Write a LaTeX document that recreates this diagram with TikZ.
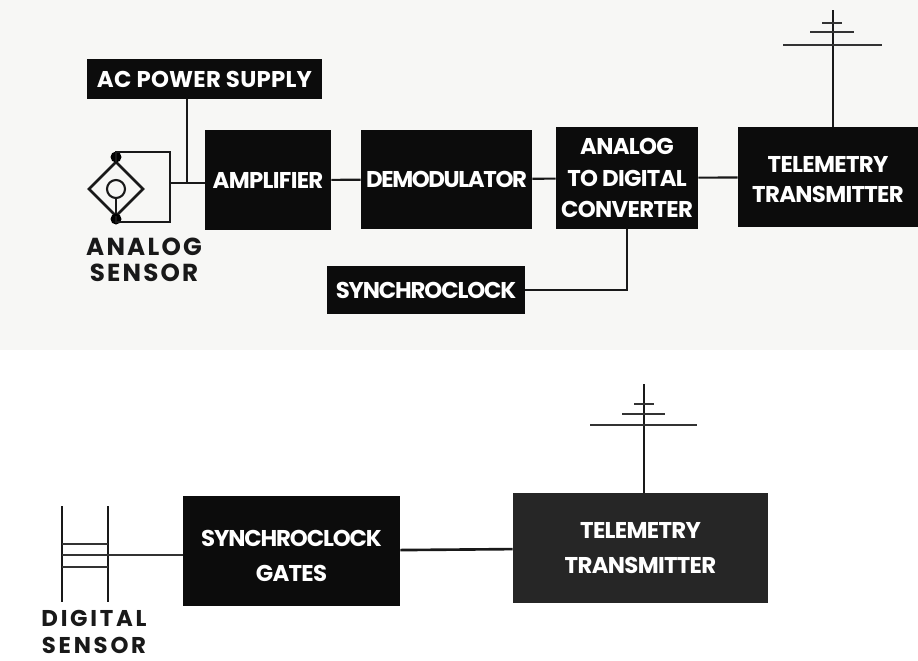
\documentclass[tikz,border=0pt]{standalone}
\usepackage{fontspec}
\setmainfont{Poppins}
\usepackage{xcolor}
\usetikzlibrary{calc}

\definecolor{paper}{HTML}{F7F7F5}
\definecolor{boxblack}{HTML}{0C0C0C}
\definecolor{boxgrey}{HTML}{262626}

\begin{document}
\begin{tikzpicture}[
  x=0.02cm, y=-0.02cm,
  font=\fontsize{13}{17}\selectfont\bfseries\addfontfeature{LetterSpace=-3},
  block/.style={draw=none, fill=boxblack, text=white, align=center, inner sep=0pt},
  greyblock/.style={block, fill=boxgrey},
  wire/.style={line width=1.2pt, black!90},
  rung/.style={line width=1pt, black!80},
  senselab/.style={font=\fontsize{14}{15}\selectfont\bfseries\addfontfeature{LetterSpace=9},
                   text=black!90, align=center, inner sep=0pt},
]

%% ── Page ─────────────────────────────────────────────────────────────────────
\useasboundingbox (0,0) rectangle (918,660);
\fill[white] (0,0) rectangle (918,660);
\fill[paper] (0,0) rectangle (918,350);

%% ── Upper chain ──────────────────────────────────────────────────────────────
\node[block, minimum width=4.72cm, minimum height=0.8cm]  (acpower)  at (204.5,79)  {\addfontfeature{LetterSpace=1}AC POWER SUPPLY};
\node[block, minimum width=2.52cm, minimum height=2cm]    (amp)      at (268,180)   {AMPLIFIER};
\node[block, minimum width=3.42cm, minimum height=1.98cm] (demod)    at (446.5,179.5) {\addfontfeature{LetterSpace=-6}DEMODULATOR};
\node[block, inner ysep=-3pt, minimum width=2.84cm, minimum height=2.04cm] (adc) at (627,178) {ANALOG\\[1pt]TO DIGITAL\\[1pt]CONVERTER};
\node[block, minimum width=3.6cm, minimum height=2cm]     (telea)    at (828,177)   {\rule{0pt}{12pt}TELEMETRY\\TRANSMITTER};
\node[block, minimum width=3.96cm, minimum height=0.96cm] (synch)    at (426,290)   {\addfontfeature{LetterSpace=-5}SYNCHROCLOCK};

\draw[wire] (amp) -- (demod);
\draw[wire] (demod) -- (adc);
\draw[wire] (adc) -- (telea);
\draw[wire] (synch.east) -| (adc.south);

%% ── Analog sensor ────────────────────────────────────────────────────────────
\coordinate (dtop)   at (116,162);
\coordinate (dbot)   at (116,216);
\coordinate (dleft)  at (89,189);
\coordinate (dright) at (143,189);
\coordinate (loopr)  at (170,183);
\coordinate (tapa)   at (187,183);
\draw[wire, line width=1.6pt] (dtop) -- (dright) -- (dbot) -- (dleft) -- cycle;
\draw[wire] (116,189) circle (9);
\draw[wire] (116,198) -- (dbot);
\fill[black] (116,157) circle (5.5) (116,219) circle (5.5);
\draw[wire] (dtop) -- (116,152) -- (170,152) -- (170,222) -- (116,222) -- (dbot);
\draw[wire] (loopr) -- (amp.west |- loopr);
\draw[wire] (acpower.south -| tapa) -- (tapa);
\node[senselab] (analoglab) at (144,260) {ANALOG\\SENSOR};

%% ── Upper antenna ────────────────────────────────────────────────────────────
\coordinate (mast) at (833,10);
\draw[wire] (mast) -- (mast |- telea.north);
\draw[rung] (822,23) -- (842,23);
\draw[rung] (810,32) -- (854,32);
\draw[rung] (783,45) -- (882,45);

%% ── Lower chain ──────────────────────────────────────────────────────────────
\node[block, minimum width=4.34cm, minimum height=2.2cm]     (gates) at (291.5,551) {\addfontfeature{LetterSpace=-5}\rule{0pt}{15pt}SYNCHROCLOCK\\[3pt]GATES};
\node[greyblock, minimum width=5.1cm, minimum height=2.2cm]  (teleb) at (640.5,548) {TELEMETRY\\[3pt]TRANSMITTER};
\draw[wire, line width=1.5pt] (gates) -- (teleb);

%% ── Digital sensor ───────────────────────────────────────────────────────────
\coordinate (railr) at (108,555);
\draw[wire] (62,506) -- (62,602);
\draw[wire] (108,506) -- (108,602);
\draw[rung] (62,544) -- (108,544);
\draw[rung] (62,555) -- (railr);
\draw[rung] (62,567) -- (108,567);
\draw[rung] (railr) -- (gates.west |- railr);
\node[senselab, font=\fontsize{13}{15.5}\selectfont\bfseries\addfontfeature{LetterSpace=12}] (digitallab) at (94,632) {DIGITAL\\SENSOR};

%% ── Lower antenna ────────────────────────────────────────────────────────────
\coordinate (mastb) at (644,384);
\draw[wire] (mastb) -- (mastb |- teleb.north);
\draw[rung] (634,404) -- (654,404);
\draw[rung] (622,414) -- (665,414);
\draw[rung] (590,425) -- (697,425);

\end{tikzpicture}
\end{document}
